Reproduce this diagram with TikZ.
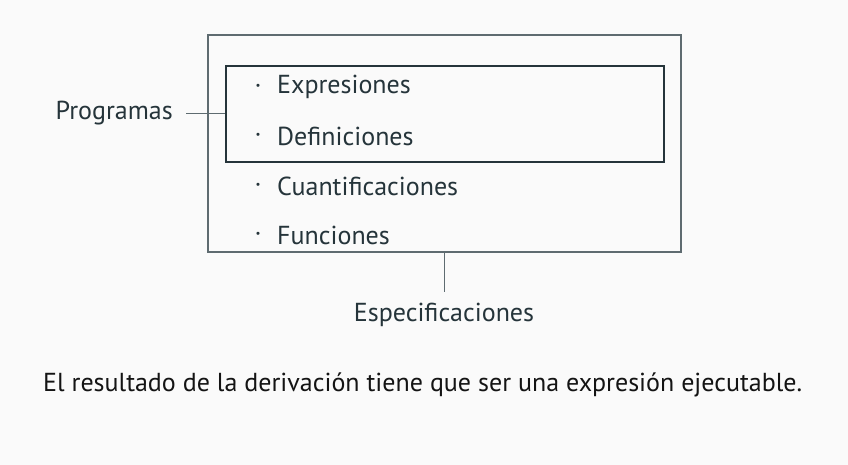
\documentclass[tikz,border=0pt]{standalone}
\usepackage{fontspec}
\setmainfont{PT Sans}
\definecolor{bg}{HTML}{FAFAFA}
\definecolor{ink}{HTML}{25343A}
\definecolor{frame}{HTML}{5E6B70}
\begin{document}
\begin{tikzpicture}[x=1pt,y=-1pt,
  lbl/.style={font=\fontsize{26}{30}\selectfont, text=ink, inner sep=0pt},
  item/.style={lbl, anchor=west},
  dot/.style={lbl, anchor=center}]
\fill[bg] (0,0) rectangle (848,465);
\useasboundingbox (0,0) rectangle (848,465);
% boxes
\draw[frame, line width=1.1pt] (208,35) rectangle (681,252);
\node[draw=ink, line width=2pt, minimum width=438pt, minimum height=96pt, inner sep=0pt, anchor=north west] (prog) at (225,65) {};
\coordinate (outerbottom) at (444,252);
\coordinate (progleft) at (225,113);
% items
\node[dot] (d1) at (258,89) {·};
\node[item] (i1) at (277,87) {Expresiones};
\node[dot] (d2) at (258,138) {·};
\node[item] (i2) at (277,136) {Definiciones};
\node[dot] (d3) at (258,188) {·};
\node[item] (i3) at (277,186) {Cuantificaciones};
\node[dot] (d4) at (258,237) {·};
\node[item] (i4) at (277,235) {Funciones};
% labels
\node[lbl, anchor=east] (programas) at (173,113) {Programas};
\node[lbl] (espec) at (444,315) {Especificaciones};
\draw[frame, line width=0.8pt] ([xshift=13pt]programas.east) -- (prog.west |- progleft);
\draw[frame, line width=0.8pt] (outerbottom) -- ++(0,40) coordinate (especTop);
% sentence
\node[lbl, text=black!92, anchor=west] (sent) at (43,385) {El resultado de la derivación tiene que ser una expresión ejecutable.};
\end{tikzpicture}
\end{document}
